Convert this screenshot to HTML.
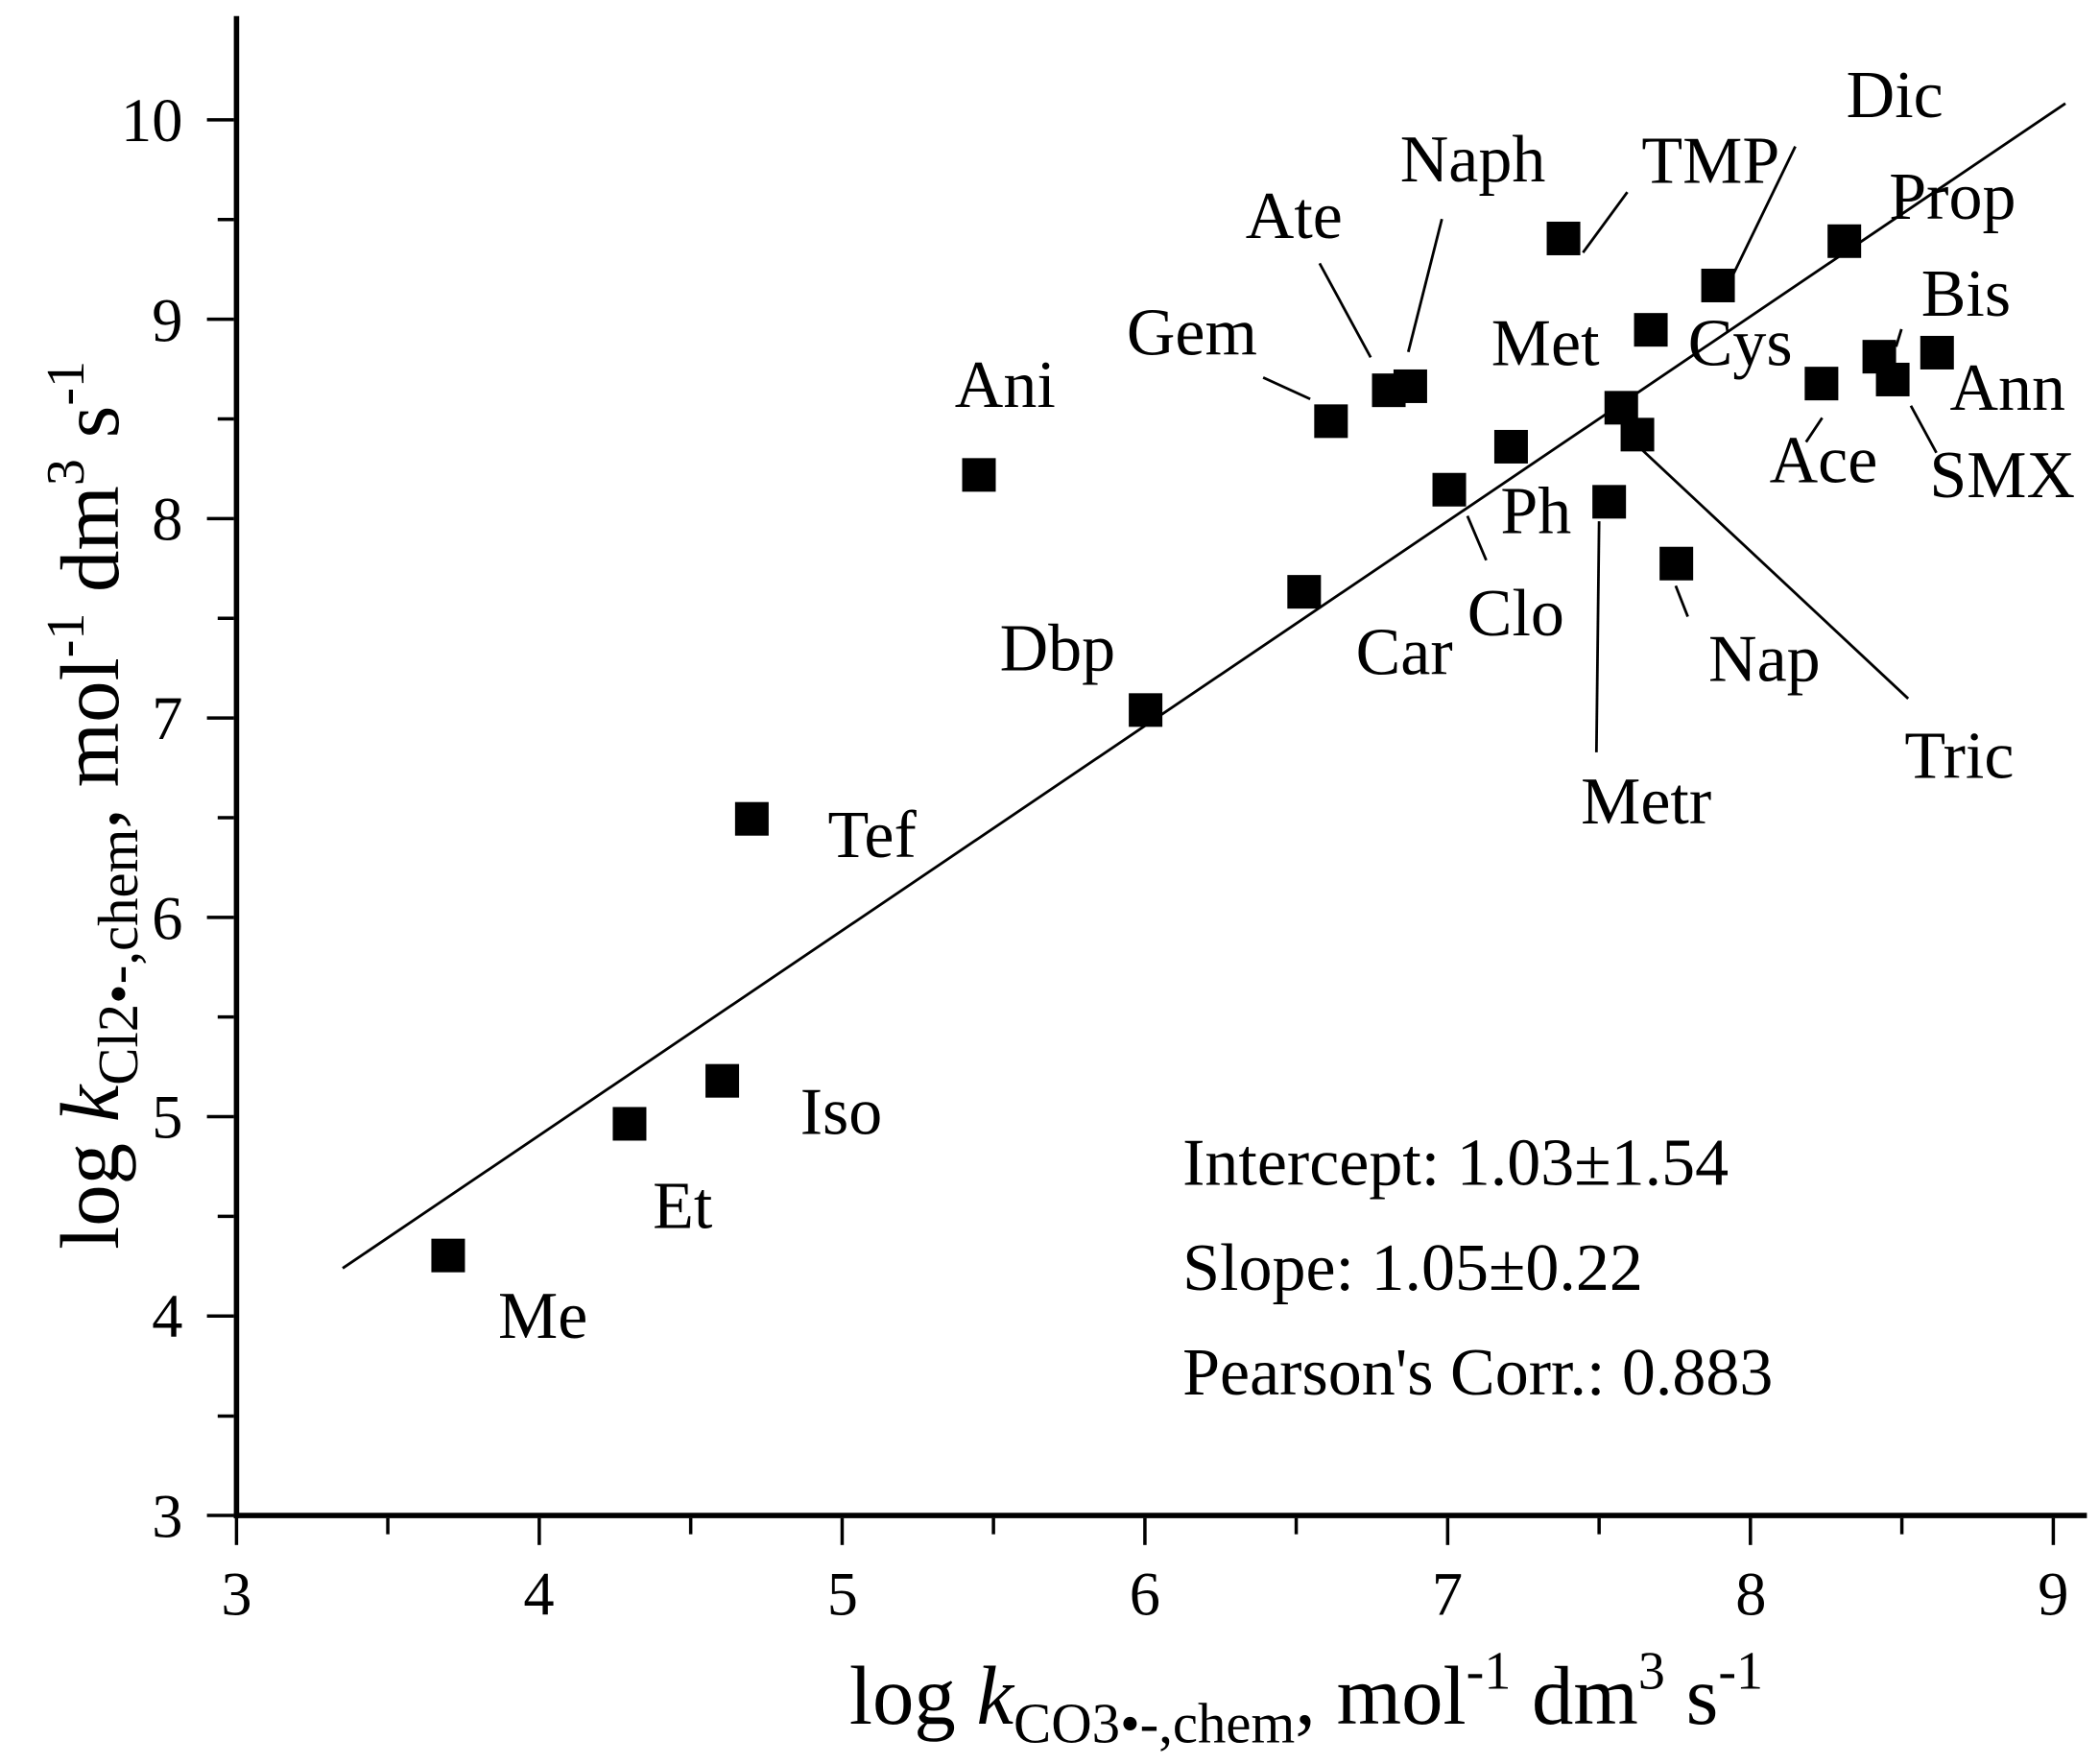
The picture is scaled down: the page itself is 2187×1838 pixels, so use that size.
<!DOCTYPE html>
<html><head><meta charset="utf-8"><style>html,body{margin:0;padding:0;background:#fff}svg{display:block}</style></head>
<body>
<svg width="2187" height="1838" viewBox="0 0 1562 1313" preserveAspectRatio="none" xmlns="http://www.w3.org/2000/svg" font-family="Liberation Serif, serif">
<rect width="1562" height="1313" fill="#fff"/>
<line x1="176" y1="12" x2="176" y2="1130" stroke="#000" stroke-width="4"/>
<line x1="174" y1="1128" x2="1553" y2="1128" stroke="#000" stroke-width="4"/>
<g stroke="#000" stroke-width="2.5">
<line x1="176" y1="1130" x2="176" y2="1150"/><line x1="288.6" y1="1130" x2="288.6" y2="1142"/>
<line x1="401.3" y1="1130" x2="401.3" y2="1150"/><line x1="514" y1="1130" x2="514" y2="1142"/>
<line x1="626.7" y1="1130" x2="626.7" y2="1150"/><line x1="739.3" y1="1130" x2="739.3" y2="1142"/>
<line x1="852" y1="1130" x2="852" y2="1150"/><line x1="964.6" y1="1130" x2="964.6" y2="1142"/>
<line x1="1077.3" y1="1130" x2="1077.3" y2="1150"/><line x1="1190" y1="1130" x2="1190" y2="1142"/>
<line x1="1302.6" y1="1130" x2="1302.6" y2="1150"/><line x1="1415.3" y1="1130" x2="1415.3" y2="1142"/>
<line x1="1528" y1="1130" x2="1528" y2="1150"/>
<line x1="154" y1="1128" x2="174" y2="1128"/><line x1="162" y1="1054" x2="174" y2="1054"/>
<line x1="154" y1="979.6" x2="174" y2="979.6"/><line x1="162" y1="905.4" x2="174" y2="905.4"/>
<line x1="154" y1="831.2" x2="174" y2="831.2"/><line x1="162" y1="757" x2="174" y2="757"/>
<line x1="154" y1="682.8" x2="174" y2="682.8"/><line x1="162" y1="608.6" x2="174" y2="608.6"/>
<line x1="154" y1="534.4" x2="174" y2="534.4"/><line x1="162" y1="460.2" x2="174" y2="460.2"/>
<line x1="154" y1="386" x2="174" y2="386"/><line x1="162" y1="311.8" x2="174" y2="311.8"/>
<line x1="154" y1="237.6" x2="174" y2="237.6"/><line x1="162" y1="163.4" x2="174" y2="163.4"/>
<line x1="154" y1="89.2" x2="174" y2="89.2"/>
</g>
<g font-size="46" text-anchor="middle">
<text x="176" y="1202">3</text><text x="401" y="1202">4</text><text x="627" y="1202">5</text>
<text x="852" y="1202">6</text><text x="1077" y="1202">7</text><text x="1303" y="1202">8</text><text x="1528" y="1202">9</text>
</g>
<g font-size="46" text-anchor="end">
<text x="136" y="1144">3</text><text x="136" y="995">4</text><text x="136" y="847">5</text>
<text x="136" y="699">6</text><text x="136" y="550">7</text><text x="136" y="402">8</text>
<text x="136" y="254">9</text><text x="136" y="105">10</text>
</g>
<text x="632" y="1283" font-size="62">log <tspan font-style="italic">k</tspan><tspan font-size="42" dy="14">CO3•-,chem</tspan><tspan dy="-14">, mol</tspan><tspan font-size="40" dy="-26">-1</tspan><tspan dy="26"> dm</tspan><tspan font-size="40" dy="-26">3</tspan><tspan dy="26"> s</tspan><tspan font-size="40" dy="-26">-1</tspan></text>
<text transform="translate(88,930) rotate(-90)" font-size="62">log <tspan font-style="italic">k</tspan><tspan font-size="42" dy="14">Cl2•-,chem</tspan><tspan dy="-14">, mol</tspan><tspan font-size="40" dy="-26">-1</tspan><tspan dy="26"> dm</tspan><tspan font-size="40" dy="-26">3</tspan><tspan dy="26"> s</tspan><tspan font-size="40" dy="-26">-1</tspan></text>
<line x1="255" y1="944" x2="1537" y2="77" stroke="#000" stroke-width="2"/>
<g stroke="#000" stroke-width="2">
<line x1="940" y1="281" x2="975" y2="297"/>
<line x1="982" y1="196" x2="1020" y2="266"/>
<line x1="1073" y1="163" x2="1048" y2="262"/>
<line x1="1211" y1="143" x2="1178" y2="188"/>
<line x1="1336" y1="109" x2="1288" y2="208"/>
<line x1="1092" y1="384" x2="1106" y2="417"/>
<line x1="1190" y1="388" x2="1188" y2="560"/>
<line x1="1247" y1="436" x2="1256" y2="459"/>
<line x1="1220" y1="333" x2="1420" y2="520"/>
<line x1="1356" y1="311" x2="1344" y2="329"/>
<line x1="1415" y1="245" x2="1411" y2="258"/>
<line x1="1422" y1="302" x2="1441" y2="337"/>
</g>
<g fill="#000">
<rect x="321" y="922" width="25" height="25"/>
<rect x="456" y="824" width="25" height="25"/>
<rect x="525" y="792" width="25" height="25"/>
<rect x="547" y="597" width="25" height="25"/>
<rect x="840" y="516" width="25" height="25"/>
<rect x="716" y="341" width="25" height="25"/>
<rect x="958" y="428" width="25" height="25"/>
<rect x="978" y="301" width="25" height="25"/>
<rect x="1021" y="278" width="25" height="25"/>
<rect x="1037" y="275" width="25" height="25"/>
<rect x="1066" y="352" width="25" height="25"/>
<rect x="1112" y="320" width="25" height="25"/>
<rect x="1151" y="165" width="25" height="25"/>
<rect x="1194" y="291" width="25" height="25"/>
<rect x="1206" y="311" width="25" height="25"/>
<rect x="1185" y="361" width="25" height="25"/>
<rect x="1235" y="407" width="25" height="25"/>
<rect x="1216" y="233" width="25" height="25"/>
<rect x="1266" y="200" width="25" height="25"/>
<rect x="1360" y="167" width="25" height="25"/>
<rect x="1343" y="273" width="25" height="25"/>
<rect x="1386" y="253" width="25" height="25"/>
<rect x="1396" y="270" width="25" height="25"/>
<rect x="1429" y="250" width="25" height="25"/>
</g>
<g font-size="50" text-anchor="middle">
<text x="748" y="303">Ani</text><text x="887" y="264">Gem</text><text x="963" y="177">Ate</text>
<text x="1096" y="135">Naph</text><text x="1273" y="136">TMP</text><text x="1410" y="87">Dic</text>
<text x="1453" y="163">Prop</text><text x="1463" y="235">Bis</text><text x="1150" y="272">Met</text>
<text x="1295" y="272">Cys</text><text x="1494" y="305">Ann</text><text x="1357" y="359">Ace</text>
<text x="1490" y="370">SMX</text><text x="1143" y="397">Ph</text><text x="1128" y="473">Clo</text>
<text x="1045" y="502">Car</text><text x="787" y="499">Dbp</text><text x="1313" y="507">Nap</text>
<text x="1458" y="579">Tric</text><text x="1225" y="613">Metr</text><text x="649" y="638">Tef</text>
<text x="626" y="844">Iso</text><text x="508" y="914">Et</text><text x="404" y="996">Me</text>
</g>
<g font-size="50">
<text x="880" y="882">Intercept: 1.03±1.54</text>
<text x="880" y="960">Slope: 1.05±0.22</text>
<text x="880" y="1038">Pearson's Corr.: 0.883</text>
</g>
</svg>
</body></html>
